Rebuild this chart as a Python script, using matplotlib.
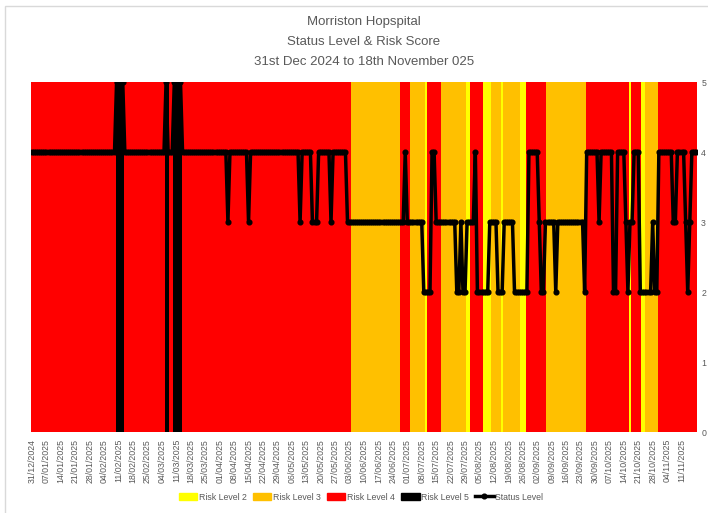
import numpy as np
import pandas as pd
import matplotlib
matplotlib.use("Agg")
import matplotlib.pyplot as plt
from matplotlib.patches import Patch, Rectangle
from matplotlib.lines import Line2D

# one character per day, 31/12/2024 .. 18/11/2025, grouped by month
risk_months = [
    "4",                                              # Dec
    "4444444444 4444444444 4444444444 4",             # Jan
    "44444 4444 5555 44444 44444 44444",              # Feb
    "44444 55 44 5555 44444 44444 44444 444",         # Mar
    "44444 44444 44444 44444 44444 44444",            # Apr
    "44444 44444 44444 44444 44444 44444 4",          # May
    "444 33333 33333 33333 33333 3333 444",           # Jun
    "44 33333 33 2 44444 44 33333 33333 33 22",       # Jul
    "44444 4 2222 33333 2 33333 333 222 4444",        # Aug
    "44444 4 33333 33333 33333 3333 44444",           # Sep
    "44444 44444 44444 4 2 44444 22 33333 3 4",       # Oct
    "44444 44444 44444 444",                          # Nov
]

status_months = [
    "4",
    "4444444444 4444444444 4444444444 4",
    "44444 4444 5555 44444 44444 44444",
    "44444 5 444 5555 44444 44444 44444 444",
    "4444 3 44444 4444 3 44444 44444 44444",
    "44444 4444 3 44444 333 44444 4 3 44444 4",
    "4 33333 33333 33333 33333 33333 333 4",
    "33333 333 2222 44 33333 33333 22 3 22 33",
    "33 4 22222 2 3333 222 33333 22222 22 444",
    "44 3 22 33333 2 33333 33333 333 2 44444",
    "4 3 44444 4 22 4444 3 2 33 444 22222 2 3 22 4",
    "44444 4 33 4444 3 2 3 444",
]

start_date = "2024-12-31"
bar_top = 5
risk_colours = {2: "#FFFF00", 3: "#FFC000", 4: "#FF0000", 5: "#000000"}
legend_labels = ["Risk Level 2", "Risk Level 3", "Risk Level 4", "Risk Level 5", "Status Level"]
title_lines = ["Morriston Hopspital", "Status Level & Risk Score",
               "31st Dec 2024 to 18th November 025"]

risk = np.array([int(c) for c in "".join(risk_months).replace(" ", "")])
status = np.array([int(c) for c in "".join(status_months).replace(" ", "")])
assert len(risk) == len(status) == 323, (len(risk), len(status))

dates = pd.date_range(start_date, periods=len(risk), freq="D")
days = np.arange(len(risk))

plt.rcParams['font.family'] = ['Liberation Sans Narrow', 'Liberation Sans', 'DejaVu Sans']
grey = "#595959"

fig = plt.figure(figsize=(7.08, 5.13), dpi=100)
ax = fig.add_axes([31 / 708, 1 - 432 / 513, 666 / 708, 350 / 513])

ax.bar(days, np.full(len(days), bar_top), width=1.0,
       color=[risk_colours[r] for r in risk], linewidth=0)
ax.plot(days, status, color="black", lw=2.5, marker="o", ms=3.4, zorder=3)

ax.set_xlim(-0.5, len(days) - 0.5)
ax.set_ylim(0, 5)
for s in ax.spines.values():
    s.set_visible(False)

ax.yaxis.tick_right()
ax.set_yticks(range(0, 6))
ax.tick_params(axis="y", length=0, pad=3, labelsize=6.3, labelcolor=grey)

# weekly labels, the last one shown in the reference is 11/11/2025
tick_idx = days[:-1:7]
ax.set_xticks(tick_idx)
ax.set_xticklabels([dates[i].strftime("%d/%m/%Y") for i in tick_idx], rotation=90)
ax.tick_params(axis="x", length=0, pad=5, labelsize=6.3, labelcolor=grey)

cx = ax.get_position().x0 + ax.get_position().width / 2
for txt, ypx in zip(title_lines, [22, 42, 62]):
    fig.text(cx, 1 - ypx / 513, txt, ha="center", va="center", fontsize=9.5, color=grey)

handles = [Patch(color=risk_colours[k]) for k in (2, 3, 4, 5)]
handles.append(Line2D([], [], color="black", lw=2.5, marker="o", ms=3.4))
fig.legend(handles, legend_labels, loc="center", bbox_to_anchor=(0.51, 1 - 497 / 513),
           ncol=5, frameon=False, fontsize=6.3, labelcolor=grey, handlelength=2.1,
           handleheight=0.9, handletextpad=0.2, columnspacing=0.7)

fig.patches.append(Rectangle((5 / 708, -0.1), 1.0, 1.1 - 6 / 513, transform=fig.transFigure,
                             fill=False, edgecolor="#d9d9d9", lw=1))

fig.savefig("out.png", dpi=100)
